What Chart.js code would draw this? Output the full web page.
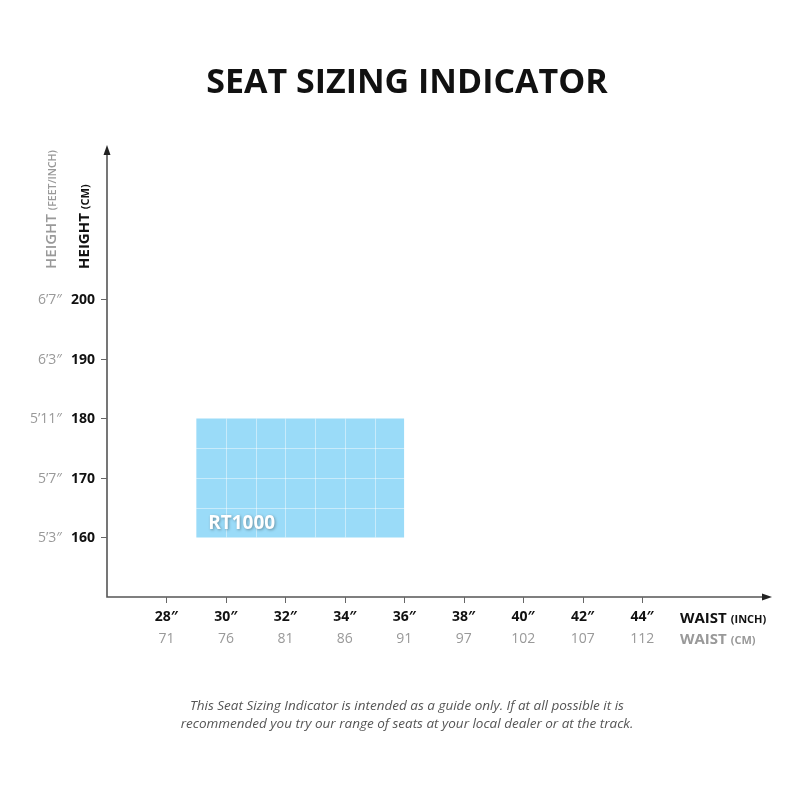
<!DOCTYPE html>
<html>
<head>
<meta charset="utf-8">
<script src="https://cdn.jsdelivr.net/npm/chart.js@4/dist/chart.umd.min.js"></script>
<style>
  body { margin: 0; background: #fff; }
  canvas { display: block; }
</style>
</head>
<body>
<canvas id="chart" width="800" height="800"></canvas>
<script>
const waistInch = [28, 30, 32, 34, 36, 38, 40, 42, 44];
const waistCm = [71, 76, 81, 86, 91, 97, 102, 107, 112];
const heightCm = [160, 170, 180, 190, 200];
const heightFt = ["5\u20193\u2033", "5\u20197\u2033", "5\u201911\u2033", "6\u20193\u2033", "6\u20197\u2033"];

const seatName = "RT1000";
const seatWaist = [29, 36];
const seatHeight = [160, 180];
const seatGridWaist = [30, 31, 32, 33, 34, 35];
const seatGridHeight = [165, 170, 175];

const FONT = "'Open Sans', sans-serif";

// draws axes, arrows, tick labels, titles and the seat box details
const sizingPlugin = {
  id: "sizing",
  afterDatasetsDraw(chart) {
    const ctx = chart.ctx;
    const xs = chart.scales.x;
    const ys = chart.scales.y;
    ctx.save();

    // white grid inside the seat box
    const bx0 = xs.getPixelForValue(seatWaist[0]);
    const bx1 = xs.getPixelForValue(seatWaist[1]);
    const by0 = ys.getPixelForValue(seatHeight[0]);
    const by1 = ys.getPixelForValue(seatHeight[1]);
    ctx.strokeStyle = "rgba(255,255,255,0.45)";
    ctx.lineWidth = 1;
    seatGridWaist.forEach(v => {
      const px = Math.round(xs.getPixelForValue(v)) + 0.5;
      ctx.beginPath(); ctx.moveTo(px, by1); ctx.lineTo(px, by0); ctx.stroke();
    });
    seatGridHeight.forEach(v => {
      const py = Math.round(ys.getPixelForValue(v)) + 0.5;
      ctx.beginPath(); ctx.moveTo(bx0, py); ctx.lineTo(bx1, py); ctx.stroke();
    });

    // seat name
    ctx.font = "bold 19px " + FONT;
    ctx.fillStyle = "#fff";
    ctx.textAlign = "left";
    ctx.textBaseline = "alphabetic";
    ctx.shadowColor = "rgba(0,0,0,0.35)";
    ctx.shadowBlur = 3;
    ctx.shadowOffsetX = 1;
    ctx.shadowOffsetY = 1;
    ctx.fillText(seatName, bx0 + 12, by0 - 8);
    ctx.restore();
  },
  afterDraw(chart) {
    const ctx = chart.ctx;
    const xs = chart.scales.x;
    const ys = chart.scales.y;
    const left = chart.chartArea.left;
    const right = chart.chartArea.right;
    const top = chart.chartArea.top;
    const bottom = chart.chartArea.bottom;
    ctx.save();

    // title
    ctx.fillStyle = "#111";
    ctx.font = "bold 34px " + FONT;
    ctx.textAlign = "center";
    ctx.textBaseline = "alphabetic";
    ctx.fillText("SEAT SIZING INDICATOR", 407, 93);

    // axes
    ctx.strokeStyle = "#555";
    ctx.lineWidth = 1.6;
    ctx.beginPath();
    ctx.moveTo(left, top + 4); ctx.lineTo(left, bottom); ctx.lineTo(right - 4, bottom);
    ctx.stroke();
    ctx.fillStyle = "#222";
    ctx.beginPath();
    ctx.moveTo(left, top - 2); ctx.lineTo(left - 3.5, top + 8); ctx.lineTo(left + 3.5, top + 8);
    ctx.closePath(); ctx.fill();
    ctx.beginPath();
    ctx.moveTo(right + 2, bottom); ctx.lineTo(right - 8, bottom - 3.5); ctx.lineTo(right - 8, bottom + 3.5);
    ctx.closePath(); ctx.fill();

    // tick marks
    ctx.strokeStyle = "#666";
    ctx.lineWidth = 1;
    waistInch.forEach(v => {
      const px = Math.round(xs.getPixelForValue(v)) + 0.5;
      ctx.beginPath(); ctx.moveTo(px, bottom); ctx.lineTo(px, bottom + 6); ctx.stroke();
    });
    heightCm.forEach(v => {
      const py = Math.round(ys.getPixelForValue(v)) + 0.5;
      ctx.beginPath(); ctx.moveTo(left - 6, py); ctx.lineTo(left, py); ctx.stroke();
    });

    // x tick labels
    ctx.textAlign = "center";
    ctx.textBaseline = "middle";
    waistInch.forEach((v, i) => {
      const px = xs.getPixelForValue(v);
      ctx.font = "bold 14px " + FONT;
      ctx.fillStyle = "#111";
      ctx.fillText(v + "\u2033", px, bottom + 20);
      ctx.font = "14px " + FONT;
      ctx.fillStyle = "#999";
      ctx.fillText(String(waistCm[i]), px, bottom + 42);
    });

    // y tick labels
    ctx.textAlign = "right";
    heightCm.forEach((v, i) => {
      const py = ys.getPixelForValue(v);
      ctx.font = "bold 14px " + FONT;
      ctx.fillStyle = "#111";
      ctx.fillText(String(v), 95, py + 1);
      ctx.font = "14px " + FONT;
      ctx.fillStyle = "#999";
      ctx.fillText(heightFt[i], 62, py + 1);
    });

    // axis titles built from a big and a small part
    function twoPart(x, y, big, small, color, bigFont, smallFont) {
      ctx.fillStyle = color;
      ctx.textAlign = "left";
      ctx.textBaseline = "alphabetic";
      ctx.font = bigFont;
      ctx.fillText(big, x, y);
      const w = ctx.measureText(big).width;
      ctx.font = smallFont;
      ctx.fillText(small, x + w + 4, y);
    }
    twoPart(680, bottom + 26, "WAIST", "(INCH)", "#111", "bold 15px " + FONT, "bold 11px " + FONT);
    twoPart(680, bottom + 47, "WAIST", "(CM)", "#999", "bold 15px " + FONT, "bold 11px " + FONT);

    ctx.save();
    ctx.translate(89, 269);
    ctx.rotate(-Math.PI / 2);
    twoPart(0, 0, "HEIGHT", "(CM)", "#111", "bold 15px " + FONT, "bold 11px " + FONT);
    ctx.restore();
    ctx.save();
    ctx.translate(56, 269);
    ctx.rotate(-Math.PI / 2);
    twoPart(0, 0, "HEIGHT", "(FEET/INCH)", "#999", "600 15px " + FONT, "600 10.5px " + FONT);
    ctx.restore();

    // footnote
    ctx.fillStyle = "#555";
    ctx.font = "italic 13.5px " + FONT;
    ctx.textAlign = "center";
    ctx.textBaseline = "alphabetic";
    ctx.fillText("This Seat Sizing Indicator is intended as a guide only. If at all possible it is", 407, 710);
    ctx.fillText("recommended you try our range of seats at your local dealer or at the track.", 407, 728);

    ctx.restore();
  }
};

new Chart(document.getElementById("chart"), {
  type: "line",
  data: {
    datasets: [
      {
        label: seatName,
        data: [
          { x: seatWaist[0], y: seatHeight[1] },
          { x: seatWaist[1], y: seatHeight[1] }
        ],
        fill: { value: seatHeight[0] },
        backgroundColor: "#9adbf8",
        borderWidth: 0,
        pointRadius: 0
      }
    ]
  },
  options: {
    responsive: false,
    animation: false,
    layout: {
      padding: { left: 107, right: 30, top: 147, bottom: 203 }
    },
    scales: {
      x: { type: "linear", display: false, min: 26, max: 48.3 },
      y: { type: "linear", display: false, min: 150, max: 225.6 }
    },
    plugins: {
      legend: { display: false },
      tooltip: { enabled: false }
    }
  },
  plugins: [sizingPlugin]
});
</script>
</body>
</html>
